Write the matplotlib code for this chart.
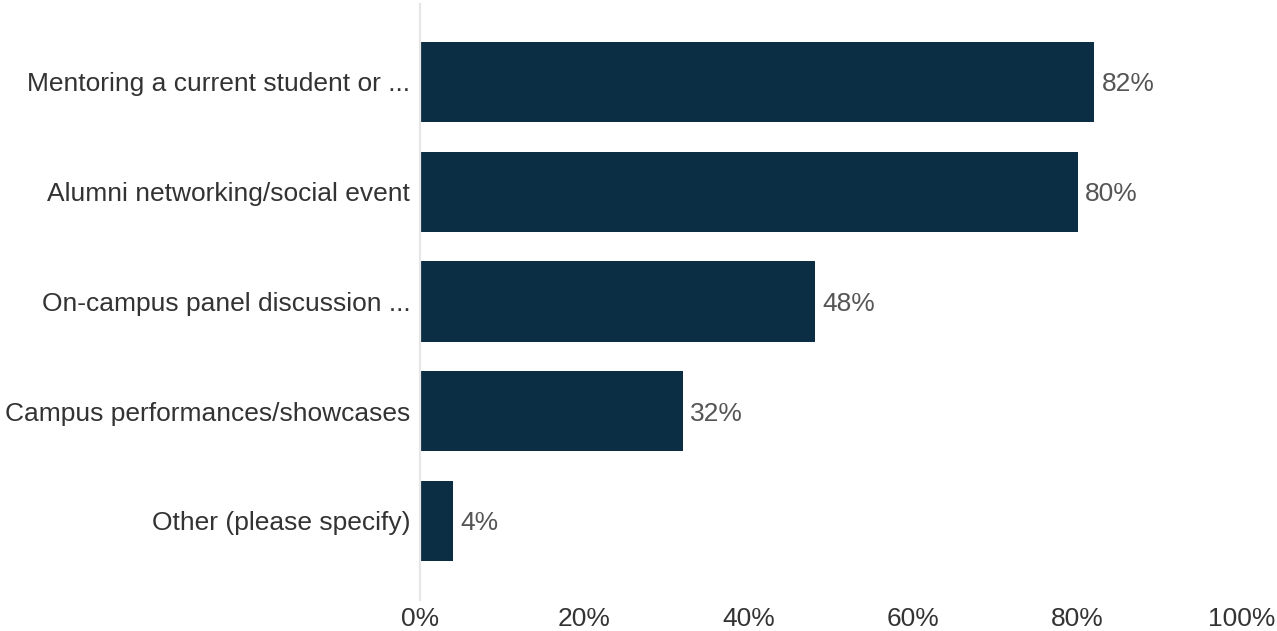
import matplotlib
matplotlib.use("Agg")
import matplotlib.pyplot as plt
from matplotlib.ticker import FuncFormatter

categories = [
    "Mentoring a current student or ...",
    "Alumni networking/social event",
    "On-campus panel discussion ...",
    "Campus performances/showcases",
    "Other (please specify)",
]
values = [82, 80, 48, 32, 4]
xticks = [0, 20, 40, 60, 80, 100]

plt.rcParams['font.family'] = ['Liberation Sans', 'DejaVu Sans']

W, H = 1277, 631
fig = plt.figure(figsize=(W / 100, H / 100), dpi=100)
left, right, top, bottom = 420, 1242, 4, 600
ax = fig.add_axes([left / W, (H - bottom) / H, (right - left) / W, (bottom - top) / H])

bar_color = "#0b2e44"
y = list(range(len(categories)))
ax.barh(y, values, height=0.73, color=bar_color, zorder=2)

for yi, v in zip(y, values):
    ax.text(v + 0.9, yi, f"{v}%", va="center_baseline", ha="left", fontsize=19, color="#555555")

ax.set_xlim(0, 100)
ax.set_ylim(4.72, -0.71)
ax.set_yticks(y)
ax.set_yticklabels(categories, va="center_baseline")
ax.set_xticks(xticks)
ax.xaxis.set_major_formatter(FuncFormatter(lambda v, p: f"{int(v)}%"))

for s in ["top", "right", "bottom"]:
    ax.spines[s].set_visible(False)
ax.spines["left"].set_color("#e6e6e6")
ax.spines["left"].set_linewidth(1.6)

ax.tick_params(axis="y", length=0, pad=7, labelsize=19, labelcolor="#333333")
ax.tick_params(axis="x", length=0, pad=5, labelsize=19, labelcolor="#333333")

fig.savefig("out.png", dpi=100, facecolor="white")
